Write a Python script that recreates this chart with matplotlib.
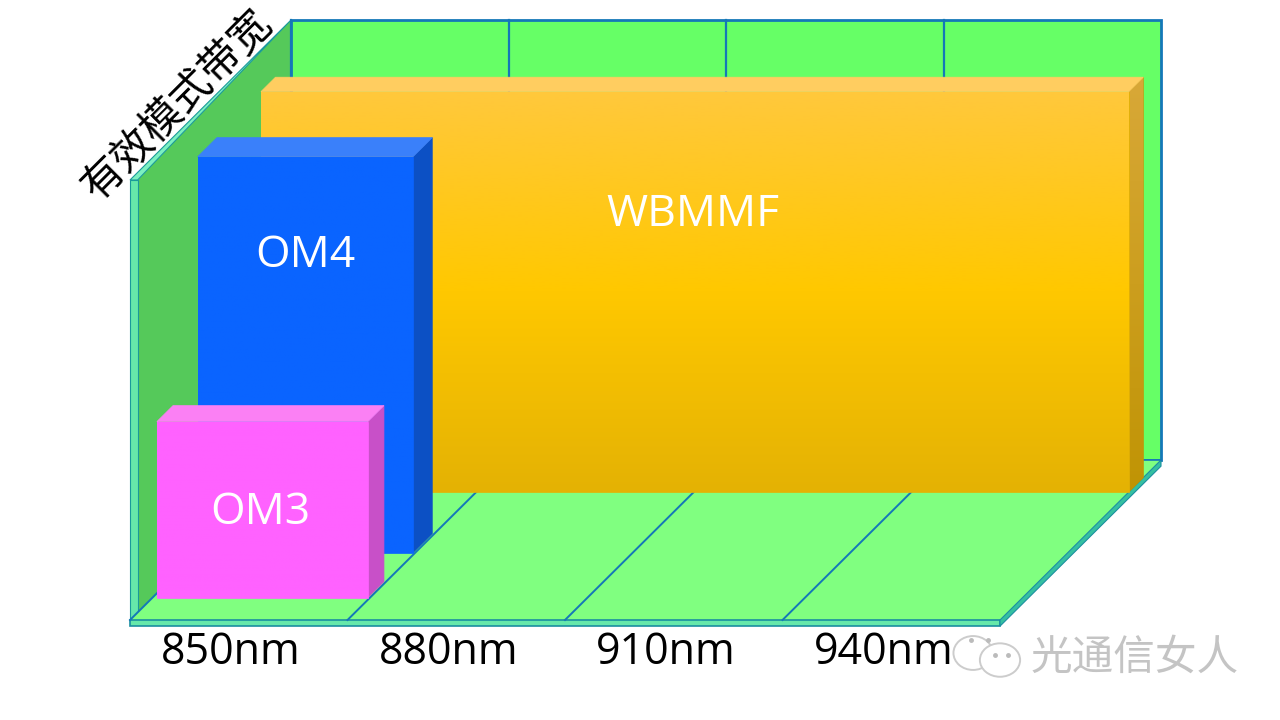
import numpy as np
import matplotlib
matplotlib.use("Agg")
import matplotlib.pyplot as plt
from matplotlib.colors import LinearSegmentedColormap
from matplotlib.patches import Polygon, Ellipse

# Chart values
categories = ['850nm', '880nm', '910nm', '940nm']
bar_names = ['WBMMF', 'OM4', 'OM3']
bar_start = [0.01, 0.0, 0.02]       # position along the wavelength axis
bar_end = [4.0, 0.99, 0.99]
bar_height = [91, 90, 40]           # effective modal bandwidth, relative
bar_depth_front = [0.80, 0.42, 0.14]
bar_depth_back = [0.89, 0.54, 0.24]
y_title = '有效模式带宽'
watermark = '光通信女人'

# Scales: one category is 217.5 px, 100 y units are 440 px, full depth is 161 x 160 px
X_PX = 217.5
Y_PX = 4.4
DEPTH_X = 161 / X_PX
DEPTH_Y = 160 / Y_PX
X_MAX = len(categories)
Y_MAX = 100

LINE = '#1478b8'
MINT = '#66e8aa'

plt.rcParams['font.family'] = ['Open Sans', 'Noto Sans CJK SC', 'DejaVu Sans']

fig = plt.figure(figsize=(12.8, 7.2), dpi=100, facecolor='white')
ax = fig.add_axes([0, 0, 1, 1])
ax.axis('off')


# Oblique projection of (x, y, depth) to the flat axes
def proj(x, y, d=0.0):
    return (x + d * DEPTH_X, y + d * DEPTH_Y)


def face(points, color, z, edge='none', lw=0):
    p = Polygon([proj(*q) for q in points], closed=True, facecolor=color,
                edgecolor=edge, linewidth=lw, zorder=z)
    ax.add_patch(p)
    return p


def gradient_face(points, colors, z):
    # gradient fill clipped to the polygon
    p = face(points, colors[-1], z, edge=colors[-1], lw=0.5)
    xy = np.array([proj(*q) for q in points])
    cmap = LinearSegmentedColormap.from_list('g', colors)
    im = ax.imshow(np.linspace(0, 1, 256).reshape(-1, 1), cmap=cmap, aspect='auto',
                   extent=(xy[:, 0].min(), xy[:, 0].max(), xy[:, 1].min(), xy[:, 1].max()),
                   zorder=z)
    im.set_clip_path(p)


def draw_bar(x0, x1, h, d0, d1, colors, top, side, z):
    side_pts = [(x1, 0, d0), (x1, 0, d1), (x1, h, d1), (x1, h, d0)]
    if isinstance(side, str):
        face(side_pts, side, z, edge=side, lw=0.5)
    else:
        gradient_face(side_pts, side, z)
    face([(x0, h, d0), (x1, h, d0), (x1, h, d1), (x0, h, d1)], top, z, edge=top, lw=0.5)
    gradient_face([(x0, 0, d0), (x1, 0, d0), (x1, h, d0), (x0, h, d0)], colors, z + 0.1)


# Back wall
face([(0, 0, 1), (X_MAX, 0, 1), (X_MAX, Y_MAX, 1), (0, Y_MAX, 1)], '#66ff66', 1, edge=LINE, lw=2)
for i in range(1, X_MAX):
    ax.plot(*zip(proj(i, 0, 1), proj(i, Y_MAX, 1)), color=LINE, lw=1.6, zorder=1.5)

# Left wall with its thin slab
wall_t = 0.035
face([(wall_t, 0, 0), (0, 0, 1), (0, Y_MAX, 1), (wall_t, Y_MAX, 0)], '#55c95a', 2)
face([(0, 0, 0), (wall_t, 0, 0), (wall_t, Y_MAX, 0), (0, Y_MAX, 0)], MINT, 2.2, edge='#1a9a9a', lw=0.8)
face([(0, Y_MAX, 0), (wall_t, Y_MAX, 0), (0, Y_MAX, 1)], '#7cf0c0', 2.2, edge='#1a9a9a', lw=0.8)
ax.plot(*zip(proj(0, 0, 1), proj(0, Y_MAX, 1)), color=LINE, lw=1.6, zorder=2.3)

# Floor with its slab
floor_t = 1.4
face([(0, 0, 0), (X_MAX, 0, 0), (X_MAX, 0, 1), (0, 0, 1)], '#80ff80', 3)
face([(0, -floor_t, 0), (X_MAX, -floor_t, 0), (X_MAX, 0, 0), (0, 0, 0)], MINT, 3.2, edge='#1a8fa0', lw=1.2)
face([(X_MAX, -floor_t, 0), (X_MAX, -floor_t, 1), (X_MAX, 0, 1), (X_MAX, 0, 0)], '#35c0a0', 3.2, edge='#1a8fa0', lw=0.8)
for i in range(0, X_MAX):
    ax.plot(*zip(proj(i, 0, 0), proj(i, 0, 1)), color=LINE, lw=1.4, zorder=3.5)
ax.plot(*zip(proj(0, 0, 1), proj(X_MAX, 0, 1)), color=LINE, lw=1.2, zorder=3.5)

# Bars, back to front
bar_styles = [
    (['#ffc83c', '#ffc800', '#e4b204'], '#ffcd60', ['#d8a838', '#c09404']),
    (['#0a64ff', '#0a64ff'], '#3a80fa', '#0c50c4'),
    (['#ff62ff', '#ff62ff'], '#fb80f4', '#c850c8'),
]
label_y = [92, 82.8, 24.3]
label_x = [2.59, 0.805, 0.60]
for i, name in enumerate(bar_names):
    colors, top, side = bar_styles[i]
    z = 5 + i
    draw_bar(bar_start[i], bar_end[i], bar_height[i], bar_depth_front[i], bar_depth_back[i],
             colors, top, side, z)
    ax.text(label_x[i], label_y[i], name, color='white', fontsize=32, ha='center', va='center',
            zorder=z + 0.5)

# Category labels
for i, cat in enumerate(categories):
    ax.text(i + 0.465, -7.4, cat, color='black', fontsize=31, ha='center', va='center', zorder=10)

# Rotated axis title running along the wall edge
ax.text(0.221, 116.8, y_title, color='black', fontsize=30, rotation=45, rotation_mode='anchor',
        ha='center', va='center', family=['Noto Sans CJK SC', 'DejaVu Sans'], zorder=10)

# Watermark
ax.text(4.62, -8.7, watermark, color='#c4c4c4', fontsize=30, fontweight='light', ha='center',
        va='center', family=['Noto Sans CJK SC', 'DejaVu Sans'], zorder=10)
ax.add_patch(Ellipse((3.876, -7.5), 0.18, 7.7, fill=False, ec='#cccccc', lw=1.4, zorder=9))
ax.add_patch(Ellipse((4.0, -9.1), 0.185, 7.6, fc='white', ec='#cccccc', lw=1.4, zorder=9.1))
for dx, dy in [(3.867, -4.5), (3.945, -4.5), (3.977, -8.0), (4.037, -8.0)]:
    ax.plot(dx, dy, 'o', ms=2.5, color='#bbbbbb', zorder=9.2)

ax.set_xlim(-130 / X_PX, (1280 - 130) / X_PX)
ax.set_ylim(-100 / Y_PX, 620 / Y_PX)

fig.savefig('out.png', dpi=100)
